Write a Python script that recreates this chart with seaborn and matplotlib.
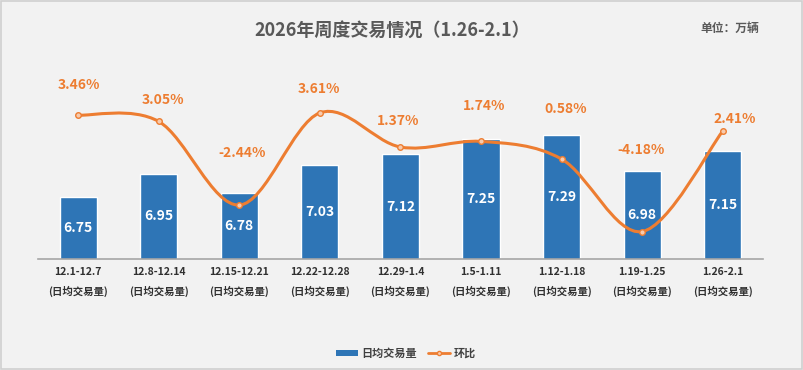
import numpy as np
import pandas as pd
import matplotlib.pyplot as plt
import seaborn as sns
from matplotlib.path import Path
from matplotlib.patches import PathPatch, Patch, Rectangle
from matplotlib.lines import Line2D

weeks = ['12.1-12.7', '12.8-12.14', '12.15-12.21', '12.22-12.28', '12.29-1.4',
         '1.5-1.11', '1.12-1.18', '1.19-1.25', '1.26-2.1']
volume = [6.75, 6.95, 6.78, 7.03, 7.12, 7.25, 7.29, 6.98, 7.15]   # 万辆
mom = [3.46, 3.05, -2.44, 3.61, 1.37, 1.74, 0.58, -4.18, 2.41]    # %

# label placement (pixels) for the percentage labels
lab_dx = [1, 4, 3, -1, -2, 3, 4, -1, 12]
lab_dy = [30, 21, 52, 24, 26, 35, 50, 82, 12]

BLUE = '#2E75B6'
ORANGE = '#ED7D31'
BG = '#F2F2F2'

sns.set_style('white')
plt.rcParams['font.family'] = ['Noto Sans CJK SC', 'DejaVu Sans']

df = pd.DataFrame({'week': weeks, 'volume': volume, 'mom': mom})

fig = plt.figure(figsize=(8.04, 3.7), dpi=100, facecolor=BG)
fig.patches.append(Rectangle((0.001, 0.002), 0.996, 0.995, transform=fig.transFigure,
                             fill=False, edgecolor='#D0D0D0', linewidth=1.2))
ax = fig.add_axes([0.047, 0.30, 0.902, 0.497])
ax.set_facecolor(BG)

sns.barplot(data=df, x='week', y='volume', color=BLUE, width=0.46, saturation=1, ax=ax)
ax.set_ylim(6.21, 7.81)
ax.set_xlim(-0.5, 8.5)
ax.set_yticks([])
ax.set_ylabel('')
ax.set_xlabel('')
for s in ['top', 'right', 'left']:
    ax.spines[s].set_visible(False)
ax.spines['bottom'].set_color('#A6A6A6')
ax.spines['bottom'].set_linewidth(1.2)
ax.tick_params(axis='x', length=0, pad=6)
ax.set_xticks(range(len(weeks)))
ax.set_xticklabels([w + '\n(日均交易量)' for w in weeks], fontsize=7.5,
                   fontweight='bold', color='#303030', linespacing=1.9)

for i, v in enumerate(volume):
    ax.text(i, (6.21 + v) / 2, f'{v:.2f}', ha='center', va='center',
            color='white', fontsize=10, fontweight='bold')

ax2 = ax.twinx()
ax2.set_ylim(-5.98, 6.09)
ax2.axis('off')

# smooth curve (Catmull-Rom as cubic Bezier) through the points
xs = np.arange(len(mom), dtype=float)
ys = np.array(mom, dtype=float)
pts = np.column_stack([xs, ys])
verts = [pts[0]]
codes = [Path.MOVETO]
n = len(pts)
for i in range(n - 1):
    p0 = pts[max(i - 1, 0)]
    p1 = pts[i]
    p2 = pts[i + 1]
    p3 = pts[min(i + 2, n - 1)]
    c1 = p1 + (p2 - p0) / 6
    c2 = p2 - (p3 - p1) / 6
    verts += [c1, c2, p2]
    codes += [Path.CURVE4] * 3
ax2.add_patch(PathPatch(Path(verts, codes), facecolor='none', edgecolor=ORANGE,
                        linewidth=2.2, capstyle='round'))
sns.scatterplot(x=xs, y=ys, ax=ax2, s=16, color='#F8CBAD', edgecolor=ORANGE,
                linewidth=1, zorder=5, legend=False)

for i, m in enumerate(mom):
    ax2.annotate(f'{m:.2f}%', (i, m), xytext=(lab_dx[i] * 0.72, lab_dy[i] * 0.72),
                 textcoords='offset points', ha='center', va='center',
                 color=ORANGE, fontsize=10, fontweight='bold')

fig.text(0.488, 0.918, '2026年周度交易情况（1.26-2.1）', ha='center', va='center',
         fontsize=13, fontweight='bold', color='#595959')
fig.text(0.908, 0.922, '单位：万辆', ha='center', va='center',
         fontsize=8.5, fontweight='bold', color='#595959')

handles = [Patch(facecolor=BLUE, edgecolor='none'),
           Line2D([0], [0], color=ORANGE, linewidth=2, marker='o', markersize=3,
                  markerfacecolor='#F8CBAD', markeredgecolor=ORANGE)]
leg = fig.legend(handles, ['日均交易量', '环比'], loc='center', bbox_to_anchor=(0.505, 0.045),
                 ncol=2, frameon=False, handlelength=2.0, handleheight=0.45,
                 columnspacing=1.0, handletextpad=0.3,
                 prop={'size': 8, 'weight': 'bold'})
for t in leg.get_texts():
    t.set_color('#404040')

fig.savefig('out.png', dpi=100, facecolor=BG)
